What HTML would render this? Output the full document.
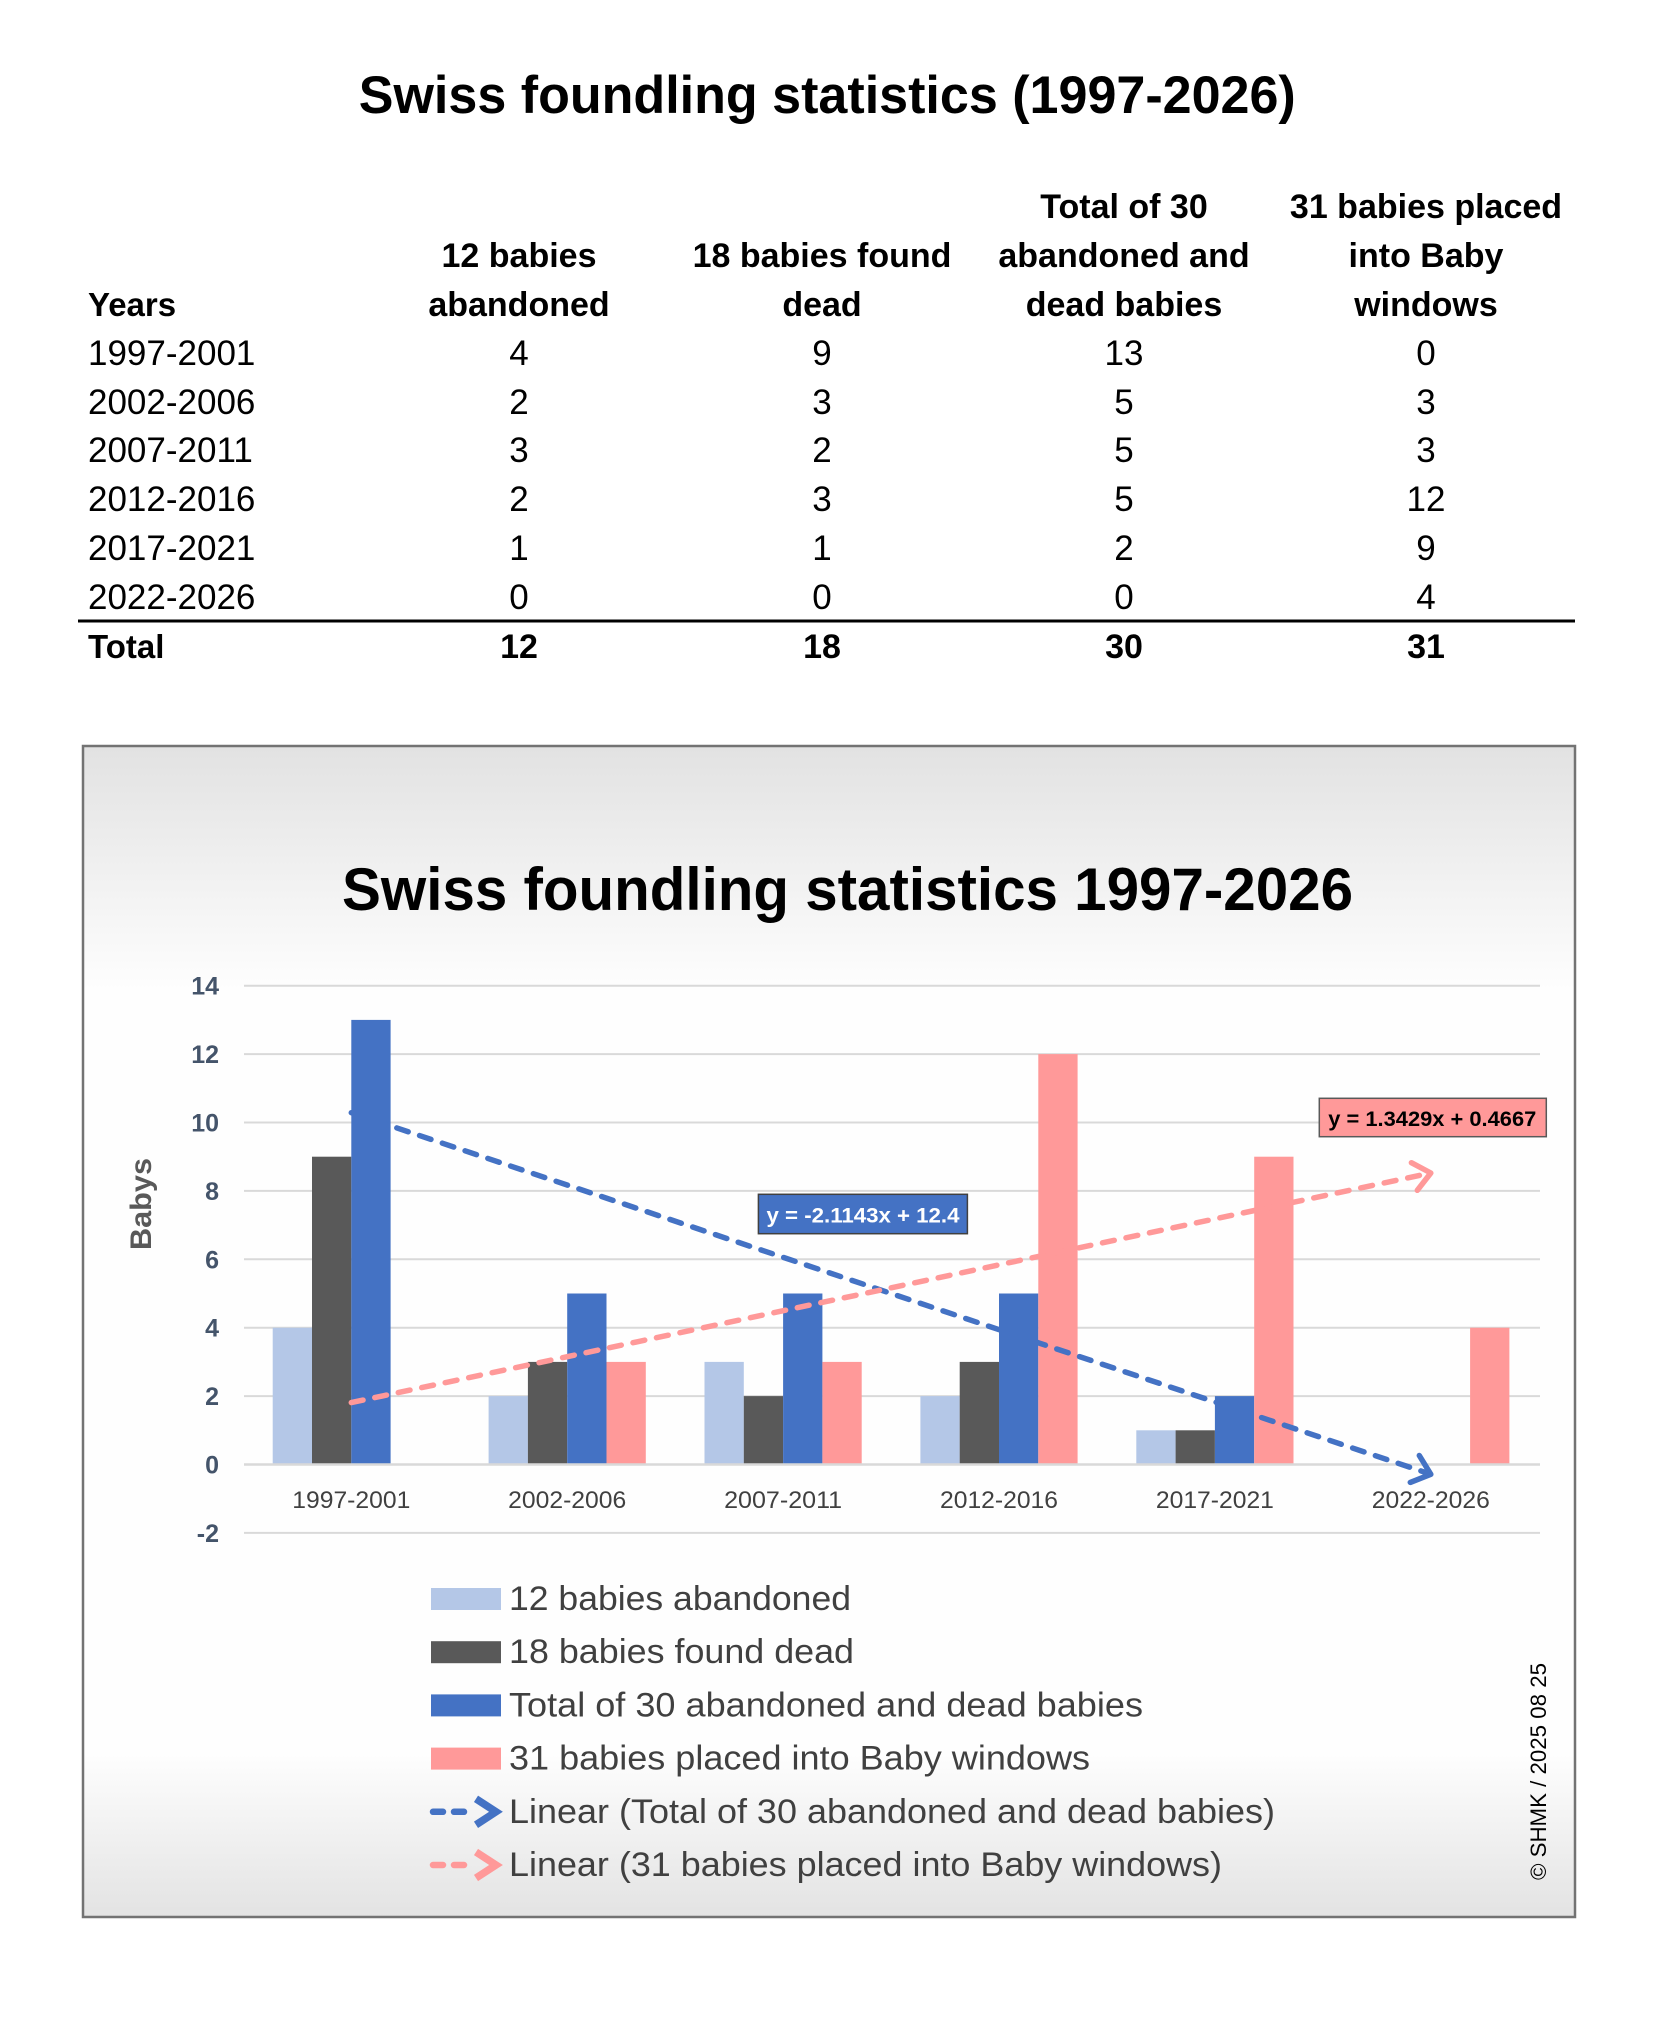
<!DOCTYPE html>
<html>
<head>
<meta charset="utf-8">
<style>
html,body{margin:0;padding:0;background:#fff;}
svg{display:block;}
text{font-family:"Liberation Sans",Arial,sans-serif;}
</style>
</head>
<body>
<svg width="1654" height="2021" viewBox="0 0 1654 2021" xmlns="http://www.w3.org/2000/svg">
<defs>
<linearGradient id="bg" x1="0" y1="0" x2="0" y2="1">
<stop offset="0" stop-color="#e2e2e2"/>
<stop offset="0.21" stop-color="#fefefe"/>
<stop offset="0.86" stop-color="#fefefe"/>
<stop offset="1" stop-color="#e3e3e3"/>
</linearGradient>
</defs>
<rect x="0" y="0" width="1654" height="2021" fill="#fff"/>

<!-- Table title -->
<text x="358.75" y="113" font-size="53" font-weight="bold" fill="#000" textLength="937" lengthAdjust="spacingAndGlyphs">Swiss foundling statistics (1997-2026)</text>

<!-- Table header -->
<g font-size="34" font-weight="bold" fill="#000" text-anchor="middle">
<text x="519" y="267">12 babies</text>
<text x="519" y="316">abandoned</text>
<text x="822" y="267">18 babies found</text>
<text x="822" y="316">dead</text>
<text x="1124" y="218">Total of 30</text>
<text x="1124" y="267">abandoned and</text>
<text x="1124" y="316">dead babies</text>
<text x="1426" y="218">31 babies placed</text>
<text x="1426" y="267">into Baby</text>
<text x="1426" y="316">windows</text>
</g>
<text x="88" y="316" font-size="33" font-weight="bold" fill="#000">Years</text>

<!-- Table data -->
<g font-size="35" fill="#000">
<text x="88" y="365">1997-2001</text>
<text x="88" y="414">2002-2006</text>
<text x="88" y="462">2007-2011</text>
<text x="88" y="511">2012-2016</text>
<text x="88" y="560">2017-2021</text>
<text x="88" y="609">2022-2026</text>
</g>
<g font-size="35" fill="#000" text-anchor="middle">
<text x="519" y="365">4</text><text x="822" y="365">9</text><text x="1124" y="365">13</text><text x="1426" y="365">0</text>
<text x="519" y="414">2</text><text x="822" y="414">3</text><text x="1124" y="414">5</text><text x="1426" y="414">3</text>
<text x="519" y="462">3</text><text x="822" y="462">2</text><text x="1124" y="462">5</text><text x="1426" y="462">3</text>
<text x="519" y="511">2</text><text x="822" y="511">3</text><text x="1124" y="511">5</text><text x="1426" y="511">12</text>
<text x="519" y="560">1</text><text x="822" y="560">1</text><text x="1124" y="560">2</text><text x="1426" y="560">9</text>
<text x="519" y="609">0</text><text x="822" y="609">0</text><text x="1124" y="609">0</text><text x="1426" y="609">4</text>
</g>
<rect x="78" y="619.5" width="1497" height="3" fill="#000"/>
<text x="88" y="658" font-size="33" font-weight="bold" fill="#000">Total</text>
<g font-size="34" font-weight="bold" fill="#000" text-anchor="middle">
<text x="519" y="658">12</text><text x="822" y="658">18</text><text x="1124" y="658">30</text><text x="1426" y="658">31</text>
</g>

<!-- Chart box -->
<rect x="83" y="746" width="1492" height="1171" fill="url(#bg)" stroke="#737373" stroke-width="2.5"/>

<!-- Chart title -->
<text x="342" y="910" font-size="60" font-weight="bold" fill="#000" textLength="1011" lengthAdjust="spacingAndGlyphs">Swiss foundling statistics 1997-2026</text>

<!-- Gridlines -->
<g stroke="#d9d9d9" stroke-width="2">
<line x1="244" y1="985.7" x2="1540" y2="985.7"/>
<line x1="244" y1="1054.1" x2="1540" y2="1054.1"/>
<line x1="244" y1="1122.5" x2="1540" y2="1122.5"/>
<line x1="244" y1="1190.9" x2="1540" y2="1190.9"/>
<line x1="244" y1="1259.3" x2="1540" y2="1259.3"/>
<line x1="244" y1="1327.7" x2="1540" y2="1327.7"/>
<line x1="244" y1="1396.1" x2="1540" y2="1396.1"/>
<line x1="244" y1="1532.9" x2="1540" y2="1532.9"/>
</g>

<!-- Y tick labels -->
<g font-size="25" font-weight="bold" fill="#44546a" text-anchor="end">
<text x="219" y="994.7">14</text>
<text x="219" y="1063.1">12</text>
<text x="219" y="1131.5">10</text>
<text x="219" y="1199.9">8</text>
<text x="219" y="1268.3">6</text>
<text x="219" y="1336.7">4</text>
<text x="219" y="1405.1">2</text>
<text x="219" y="1473.5">0</text>
<text x="219" y="1541.9">-2</text>
</g>

<!-- Y axis title -->
<text transform="translate(151,1250) rotate(-90)" font-size="30" font-weight="bold" fill="#595959" textLength="92" lengthAdjust="spacingAndGlyphs">Babys</text>

<!-- Bars -->
<g fill="#b4c7e7">
<rect x="272.7" y="1327.7" width="39.3" height="136.8"/>
<rect x="488.6" y="1396.1" width="39.3" height="68.4"/>
<rect x="704.5" y="1361.9" width="39.3" height="102.6"/>
<rect x="920.4" y="1396.1" width="39.3" height="68.4"/>
<rect x="1136.3" y="1430.3" width="39.3" height="34.2"/>
</g>
<g fill="#595959">
<rect x="312.0" y="1156.7" width="39.3" height="307.8"/>
<rect x="527.9" y="1361.9" width="39.3" height="102.6"/>
<rect x="743.8" y="1396.1" width="39.3" height="68.4"/>
<rect x="959.7" y="1361.9" width="39.3" height="102.6"/>
<rect x="1175.6" y="1430.3" width="39.3" height="34.2"/>
</g>
<g fill="#4472c4">
<rect x="351.3" y="1019.9" width="39.3" height="444.6"/>
<rect x="567.2" y="1293.5" width="39.3" height="171"/>
<rect x="783.1" y="1293.5" width="39.3" height="171"/>
<rect x="999.0" y="1293.5" width="39.3" height="171"/>
<rect x="1214.9" y="1396.1" width="39.3" height="68.4"/>
</g>
<g fill="#ff9999">
<rect x="606.5" y="1361.9" width="39.3" height="102.6"/>
<rect x="822.4" y="1361.9" width="39.3" height="102.6"/>
<rect x="1038.3" y="1054.1" width="39.3" height="410.4"/>
<rect x="1254.2" y="1156.7" width="39.3" height="307.8"/>
<rect x="1470.1" y="1327.7" width="39.3" height="136.8"/>
</g>

<!-- Zero line -->
<line x1="244" y1="1464.5" x2="1540" y2="1464.5" stroke="#d9d9d9" stroke-width="2.5"/>

<!-- Category labels -->
<g font-size="24" fill="#404040" text-anchor="middle">
<text x="351.3" y="1508" textLength="118" lengthAdjust="spacingAndGlyphs">1997-2001</text>
<text x="567.2" y="1508" textLength="118" lengthAdjust="spacingAndGlyphs">2002-2006</text>
<text x="783.1" y="1508" textLength="118" lengthAdjust="spacingAndGlyphs">2007-2011</text>
<text x="999.0" y="1508" textLength="118" lengthAdjust="spacingAndGlyphs">2012-2016</text>
<text x="1214.9" y="1508" textLength="118" lengthAdjust="spacingAndGlyphs">2017-2021</text>
<text x="1430.8" y="1508" textLength="118" lengthAdjust="spacingAndGlyphs">2022-2026</text>
</g>

<!-- Trendlines -->
<line x1="351.3" y1="1112.7" x2="1428" y2="1473.3" stroke="#4472c4" stroke-width="5.5" stroke-dasharray="12 12" stroke-linecap="round"/>
<path d="M1419.3,1455.5 L1430.8,1474.3 L1410.3,1482.4" fill="none" stroke="#4472c4" stroke-width="5.5" stroke-linecap="round" stroke-linejoin="round"/>
<line x1="351.3" y1="1402.6" x2="1428" y2="1173.6" stroke="#ff9999" stroke-width="5.5" stroke-dasharray="12 12" stroke-linecap="round"/>
<path d="M1411.4,1162.7 L1430.8,1173 L1417.3,1190.3" fill="none" stroke="#ff9999" stroke-width="5.5" stroke-linecap="round" stroke-linejoin="round"/>

<!-- Trendline labels -->
<rect x="758.4" y="1194.3" width="209" height="39.4" fill="#4472c4" stroke="#404040" stroke-width="1.5"/>
<text x="863" y="1222.5" font-size="21" font-weight="bold" fill="#fff" text-anchor="middle" textLength="193" lengthAdjust="spacingAndGlyphs">y = -2.1143x + 12.4</text>
<rect x="1319.3" y="1098.3" width="227" height="38.4" fill="#ff9999" stroke="#595959" stroke-width="1.5"/>
<text x="1432.3" y="1126" font-size="21" font-weight="bold" fill="#000" text-anchor="middle" textLength="208" lengthAdjust="spacingAndGlyphs">y = 1.3429x + 0.4667</text>

<!-- Legend -->
<rect x="431" y="1588" width="70" height="22" fill="#b4c7e7"/>
<rect x="431" y="1641.2" width="70" height="22" fill="#595959"/>
<rect x="431" y="1694.4" width="70" height="22" fill="#4472c4"/>
<rect x="431" y="1747.6" width="70" height="22" fill="#ff9999"/>
<g stroke="#4472c4" fill="none">
<path d="M433,1811.8 L443,1811.8 M454,1811.8 L464,1811.8" stroke-width="6.5" stroke-linecap="round"/>
<path d="M476,1798.8 L496,1811.8 L476,1824.8" stroke-width="7.5" stroke-linejoin="miter"/>
</g>
<g stroke="#ff9999" fill="none">
<path d="M433,1865 L443,1865 M454,1865 L464,1865" stroke-width="6.5" stroke-linecap="round"/>
<path d="M476,1852 L496,1865 L476,1878" stroke-width="7.5" stroke-linejoin="miter"/>
</g>
<g font-size="34" fill="#404040">
<text x="509" y="1610" textLength="342" lengthAdjust="spacingAndGlyphs">12 babies abandoned</text>
<text x="509" y="1663.2" textLength="345" lengthAdjust="spacingAndGlyphs">18 babies found dead</text>
<text x="509" y="1716.4" textLength="634" lengthAdjust="spacingAndGlyphs">Total of 30 abandoned and dead babies</text>
<text x="509" y="1769.6" textLength="581" lengthAdjust="spacingAndGlyphs">31 babies placed into Baby windows</text>
<text x="509" y="1822.8" textLength="766" lengthAdjust="spacingAndGlyphs">Linear (Total of 30 abandoned and dead babies)</text>
<text x="509" y="1876" textLength="713" lengthAdjust="spacingAndGlyphs">Linear (31 babies placed into Baby windows)</text>
</g>

<!-- Copyright -->
<text transform="translate(1546,1880) rotate(-90)" font-size="22" fill="#000" textLength="217" lengthAdjust="spacingAndGlyphs">© SHMK / 2025 08 25</text>
</svg>
</body>
</html>
